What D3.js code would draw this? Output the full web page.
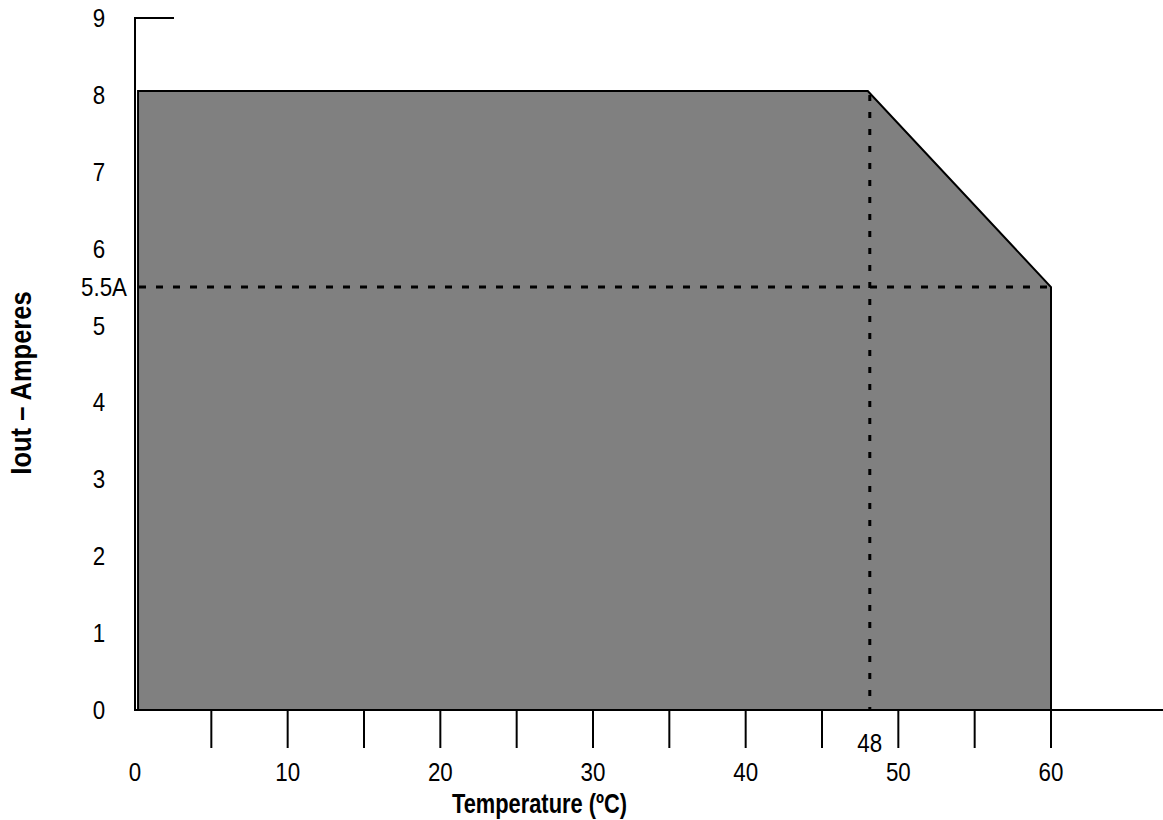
<!DOCTYPE html>
<html>
<head>
<meta charset="utf-8">
<script src="https://cdn.jsdelivr.net/npm/d3@7"></script>
<style>
  body { margin: 0; background: #fff; }
  text { font-family: "Liberation Sans", Arial, sans-serif; }
</style>
</head>
<body>
<div id="chart"></div>
<script>
// derating curve: temperature (C) vs output current (A)
const curveTemp = [0.2, 0.2, 48, 60, 60];
const curveAmps = [0, 8.05, 8.05, 5.5, 0];
const yTicks = [0, 1, 2, 3, 4, 5, 6, 7, 8, 9];
const xLabels = [0, 10, 20, 30, 40, 50, 60];
const xTickMarks = [5, 10, 15, 20, 25, 30, 35, 40, 45, 50, 55, 60];
const kneeTemp = 48;
const kneeAmps = 5.5;

drawChart();

function drawChart() {
  const width = 1163;
  const height = 820;
  const svg = d3.select("#chart").append("svg")
    .attr("width", width)
    .attr("height", height);

  const x = d3.scaleLinear().domain([0, 60]).range([135, 1051]);
  const y = d3.scaleLinear().domain([0, 9]).range([710, 18]);

  const pts = curveTemp.map((t, i) => [x(t), y(curveAmps[i])]);

  // shaded area
  svg.append("path")
    .attr("d", d3.line()(pts) + "Z")
    .attr("fill", "#808080")
    .attr("stroke", "#000")
    .attr("stroke-width", 2)
    .attr("stroke-linejoin", "miter");

  // dashed guides
  svg.append("line")
    .attr("x1", x(0) + 4).attr("x2", x(60))
    .attr("y1", y(kneeAmps)).attr("y2", y(kneeAmps))
    .attr("stroke", "#000").attr("stroke-width", 3)
    .attr("stroke-dasharray", "7,10");
  svg.append("line")
    .attr("x1", x(kneeTemp) + 2).attr("x2", x(kneeTemp) + 2)
    .attr("y1", y(8.05) + 4).attr("y2", y(0))
    .attr("stroke", "#000").attr("stroke-width", 3)
    .attr("stroke-dasharray", "6,11");

  // axes lines
  svg.append("path")
    .attr("d", `M${x(0) + 39},${y(9)}H${x(0)}V${y(0)}H${width}`)
    .attr("fill", "none")
    .attr("stroke", "#000")
    .attr("stroke-width", 2);

  // x ticks
  svg.selectAll(".xtick")
    .data(xTickMarks)
    .join("line")
    .attr("class", "xtick")
    .attr("x1", (d) => x(d)).attr("x2", (d) => x(d))
    .attr("y1", y(0)).attr("y2", y(0) + 38)
    .attr("stroke", "#000")
    .attr("stroke-width", 2);

  const narrow = (sel, px, py, sx) =>
    sel.attr("transform", `translate(${px},${py}) scale(${sx},1)`);

  svg.selectAll(".xlab")
    .data(xLabels)
    .join("text")
    .attr("class", "xlab")
    .attr("text-anchor", "middle")
    .style("font-size", "26px")
    .text((d) => d)
    .each(function (d) { narrow(d3.select(this), x(d), 781, 0.86); });

  narrow(svg.append("text"), x(kneeTemp) + 2, 752, 0.86)
    .attr("text-anchor", "middle")
    .style("font-size", "26px")
    .text(kneeTemp);

  // y labels
  svg.selectAll(".ylab")
    .data(yTicks)
    .join("text")
    .attr("class", "ylab")
    .attr("text-anchor", "middle")
    .style("font-size", "26px")
    .text((d) => d)
    .each(function (d) { narrow(d3.select(this), 99, y(d) + 9, 0.86); });

  narrow(svg.append("text"), 127, y(kneeAmps) + 9, 0.86)
    .attr("text-anchor", "end")
    .style("font-size", "26px")
    .text(kneeAmps + "A");

  // titles
  narrow(svg.append("text"), 452, 813, 0.78)
    .attr("text-anchor", "start")
    .style("font-size", "28px")
    .style("font-weight", "bold")
    .text("Temperature (ºC)");

  svg.append("text")
    .attr("transform", `translate(31,383) rotate(-90) scale(0.88,1)`)
    .attr("text-anchor", "middle")
    .style("font-size", "29px")
    .style("font-weight", "bold")
    .text("Iout – Amperes");
}
</script>
</body>
</html>
